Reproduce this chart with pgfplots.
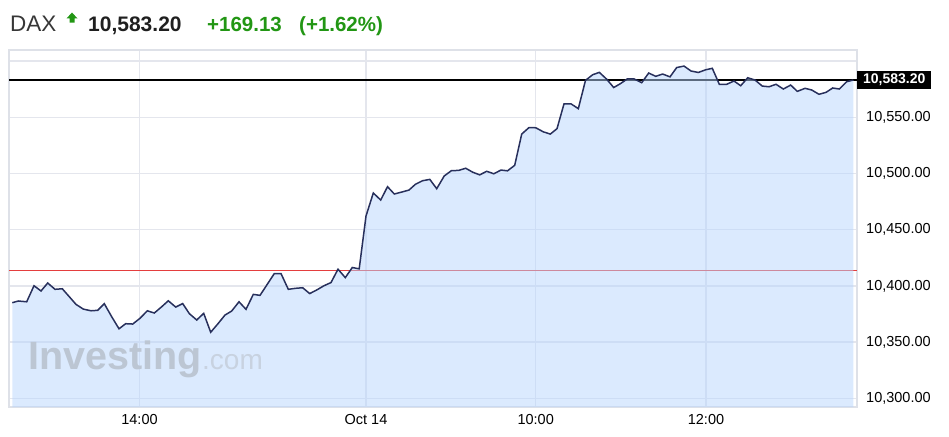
\documentclass[border=0pt]{standalone}
\usepackage{fontspec}
\setmainfont{Liberation Sans}
\usepackage{pgfplots}
\pgfplotsset{compat=1.18}
\usepackage{pgfplotstable}
\definecolor{gridc}{RGB}{228,230,237}
\definecolor{framec}{RGB}{222,225,232}
\definecolor{linec}{RGB}{40,48,92}
\definecolor{fillc}{RGB}{183,213,253}
\definecolor{redc}{RGB}{228,62,62}
\definecolor{upgreen}{RGB}{34,150,20}
\definecolor{titlegray}{RGB}{55,55,55}
\definecolor{wmark}{RGB}{188,198,211}
\definecolor{wmark2}{RGB}{200,210,224}

\pgfplotstableread{
x y
12.3 10385.1
18.3 10386.6
26.7 10385.9
34.0 10400.2
41.0 10395.5
47.7 10402.6
55.0 10397.0
62.3 10397.5
69.3 10390.4
76.0 10383.6
83.3 10379.4
91.0 10377.9
97.7 10378.3
104.3 10384.2
111.7 10372.6
119.0 10361.9
125.7 10366.4
132.7 10366.1
140.0 10371.2
147.3 10377.9
154.3 10375.9
161.7 10381.5
168.3 10386.8
175.7 10381.2
182.7 10384.3
189.3 10375.4
196.7 10369.7
203.7 10375.6
210.7 10358.8
217.7 10366.1
225.0 10374.1
231.7 10377.7
239.0 10385.9
246.0 10379.2
253.3 10392.5
260.0 10391.6
267.3 10401.5
274.3 10411.0
281.0 10411.0
288.3 10397.0
295.7 10397.9
302.7 10398.4
309.7 10393.2
316.7 10396.4
324.0 10400.2
331.0 10403.0
338.0 10414.9
345.3 10407.4
352.3 10416.4
359.2 10415.2
366.0 10462.2
373.3 10482.7
380.7 10476.4
387.5 10488.3
394.3 10481.8
401.7 10483.5
409.0 10485.3
415.5 10490.5
422.5 10493.6
429.8 10494.8
436.7 10486.5
444.2 10497.8
451.3 10502.5
458.7 10502.8
465.7 10504.7
472.7 10501.2
479.7 10498.8
486.7 10502.0
493.8 10499.8
501.0 10503.1
507.5 10502.4
514.7 10507.3
521.7 10535.1
529.0 10540.9
535.8 10540.7
543.3 10537.1
550.3 10535.1
557.0 10539.9
564.0 10562.0
571.0 10562.0
578.3 10557.7
585.5 10582.9
592.7 10587.9
599.3 10590.0
606.7 10583.9
613.7 10576.5
620.3 10579.9
627.5 10584.3
634.2 10584.1
641.7 10580.8
648.7 10589.4
655.7 10586.5
662.7 10588.5
670.0 10586.0
676.7 10594.3
684.0 10595.6
691.0 10591.2
698.3 10589.9
705.7 10592.3
712.3 10593.6
719.3 10579.4
726.7 10579.4
734.0 10582.3
740.7 10578.1
747.7 10585.2
755.0 10583.2
762.3 10577.8
769.0 10577.2
776.0 10579.4
783.3 10575.2
790.7 10578.7
797.3 10573.1
805.0 10575.8
811.7 10574.3
819.0 10570.5
826.0 10572.2
832.7 10576.1
839.3 10575.2
846.7 10581.7
853.3 10583.2
}\daxdata

\begin{document}
\begin{tikzpicture}
\path[use as bounding box] (0pt,0pt) rectangle (949pt,436pt);
% title
\node[anchor=base west, inner sep=0pt, text=titlegray, font=\fontsize{22.5}{26}\selectfont] at (10pt,404pt) {DAX};
\fill[upgreen] (66.5pt,417.5pt) -- (72pt,423.5pt) -- (77.5pt,417.5pt) -- (74.5pt,417.5pt) -- (74.5pt,413.3pt) -- (69.5pt,413.3pt) -- (69.5pt,417.5pt) -- cycle;
\node[anchor=base west, inner sep=0pt, text=black!88, font=\bfseries\fontsize{21}{25}\selectfont] at (88pt,404pt) {10,583.20};
\node[anchor=base west, inner sep=0pt, text=upgreen, font=\bfseries\fontsize{20.5}{25}\selectfont] at (207pt,404pt) {+169.13};
\node[anchor=base west, inner sep=0pt, text=upgreen, font=\bfseries\fontsize{20.5}{25}\selectfont] at (299pt,404pt) {(+1.62\%)};

\begin{axis}[
  at={(9pt,29pt)}, anchor=south west,
  scale only axis, width=848pt, height=357pt,
  xmin=9, xmax=857, ymin=10292.3, ymax=10609.9,
  clip=false,
  scaled y ticks=false, scaled x ticks=false,
  axis line style={framec, line width=1.2pt},
  xtick={139.5,366,535.7,706},
  xticklabels={14:00,Oct 14,10:00,12:00},
  ytick={10300,10350,10400,10450,10500,10550,10600},
  yticklabels={{10,300.00},{10,350.00},{10,400.00},{10,450.00},{10,500.00},{10,550.00},{}},
  yticklabel pos=right,
  major tick length=0pt,
  grid=major,
  major grid style={gridc, line width=1.3pt},
  xticklabel style={font=\fontsize{14.5}{17}\selectfont, anchor=center, inner sep=0pt, yshift=-13pt},
  yticklabel style={font=\fontsize{14.5}{17}\selectfont, anchor=west, inner sep=0pt, xshift=9pt},
]
\draw[redc, line width=1.1pt] (axis cs:9,10414.07) -- (axis cs:857,10414.07);
\draw[black, line width=1.2pt] (axis cs:9,10583.2) -- (axis cs:857,10583.2);
\addplot[draw=none, fill=fillc, fill opacity=0.5] table[x=x,y=y] {\daxdata} \closedcycle;
\node[anchor=base west, inner sep=0pt, text=wmark, font=\bfseries\fontsize{39.5}{44}\selectfont] at (axis cs:28,10325.5) {Investing};
\node[anchor=base west, inner sep=0pt, text=wmark2, font=\fontsize{28}{34}\selectfont] at (axis cs:202,10325.5) {.com};
\addplot[linec, line width=1.5pt, mark=none] table[x=x,y=y] {\daxdata};
\node[anchor=west, fill=black, text=white, inner sep=0pt, minimum width=74pt, minimum height=18.5pt, font=\bfseries\fontsize{14}{17}\selectfont] at (axis cs:857,10583.2) {10,583.20};
\end{axis}
\end{tikzpicture}
\end{document}
